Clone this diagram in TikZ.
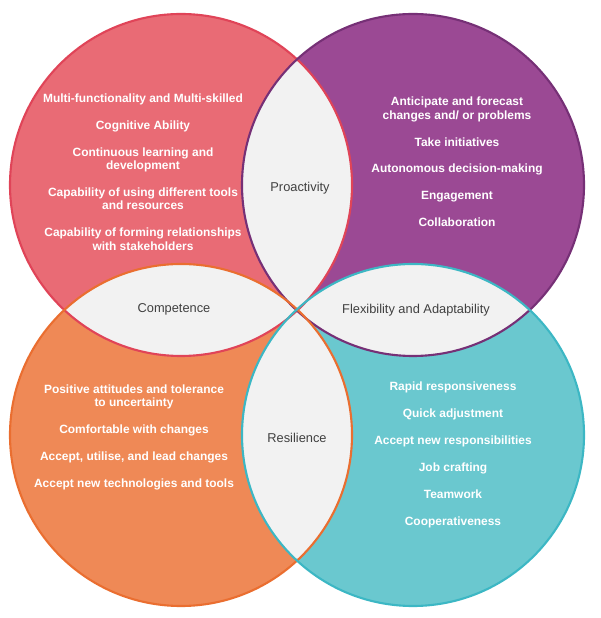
\documentclass[tikz,border=0pt]{standalone}
\usepackage{fontspec}
\setmainfont{Liberation Sans}
\usetikzlibrary{positioning}
\definecolor{petalred}{RGB}{233,107,117}
\definecolor{edgered}{RGB}{224,68,88}
\definecolor{petalpurple}{RGB}{155,73,148}
\definecolor{edgepurple}{RGB}{118,48,118}
\definecolor{petalorange}{RGB}{239,137,86}
\definecolor{edgeorange}{RGB}{234,110,48}
\definecolor{petalteal}{RGB}{106,200,207}
\definecolor{edgeteal}{RGB}{60,183,196}
\definecolor{lensgray}{RGB}{242,242,242}
\definecolor{labelgray}{RGB}{64,64,64}

\begin{document}
\begin{tikzpicture}[x=0.02cm, y=0.02cm,
    items/.style={align=center, text=white, font=\fontsize{6.8}{7.65}\selectfont\bfseries},
    lenslabel/.style={text=labelgray, font=\fontsize{7.3}{8.5}\selectfont},
    rim/.style={line width=1.2pt}]
    \useasboundingbox (0,0) rectangle (600,618);

    \coordinate (tl) at (181,433);
    \coordinate (tr) at (413,433);
    \coordinate (bl) at (181,183);
    \coordinate (br) at (413,183);

    % the four petals
    \fill[petalred] (tl) circle (171);
    \fill[petalpurple] (tr) circle (171);
    \fill[petalorange] (bl) circle (171);
    \fill[petalteal] (br) circle (171);

    % overlaps
    \begin{scope}
        \clip (tl) circle (171);
        \fill[lensgray] (tr) circle (171);
        \fill[lensgray] (bl) circle (171);
    \end{scope}
    \begin{scope}
        \clip (br) circle (171);
        \fill[lensgray] (tr) circle (171);
        \fill[lensgray] (bl) circle (171);
    \end{scope}

    % rims
    \draw[rim, edgered] (tl) circle (171);
    \draw[rim, edgepurple] (tr) circle (171);
    \draw[rim, edgeorange] (bl) circle (171);
    \draw[rim, edgeteal] (br) circle (171);

    % lens labels
    \node[lenslabel] (proact) at (300,430) {Proactivity};
    \node[lenslabel] (compet) at (174,309) {Competence};
    \node[lenslabel] (flexad) at (416,308) {Flexibility and Adaptability};
    \node[lenslabel] (resil) at (297,180) {Resilience};

    % petal contents
    \node[items] (redlist) at (143,446) {Multi-functionality and Multi-skilled\\[7.65pt]
        Cognitive Ability\\[7.65pt]
        Continuous learning and\\ development\\[7.65pt]
        Capability of using different tools\\ and resources\\[7.65pt]
        Capability of forming relationships\\ with stakeholders};
    \node[items] (purplelist) at (457,456) {Anticipate and forecast\\ changes and/ or problems\\[7.65pt]
        Take initiatives\\[7.65pt]
        Autonomous decision-making\\[7.65pt]
        Engagement\\[7.65pt]
        Collaboration};
    \node[items] (orangelist) at (134,181) {Positive attitudes and tolerance\\ to uncertainty\\[7.65pt]
        Comfortable with changes\\[7.65pt]
        Accept, utilise, and lead changes\\[7.65pt]
        Accept new technologies and tools};
    \node[items] (teallist) at (453,163) {Rapid responsiveness\\[7.65pt]
        Quick adjustment\\[7.65pt]
        Accept new responsibilities\\[7.65pt]
        Job crafting\\[7.65pt]
        Teamwork\\[7.65pt]
        Cooperativeness};
\end{tikzpicture}
\end{document}
